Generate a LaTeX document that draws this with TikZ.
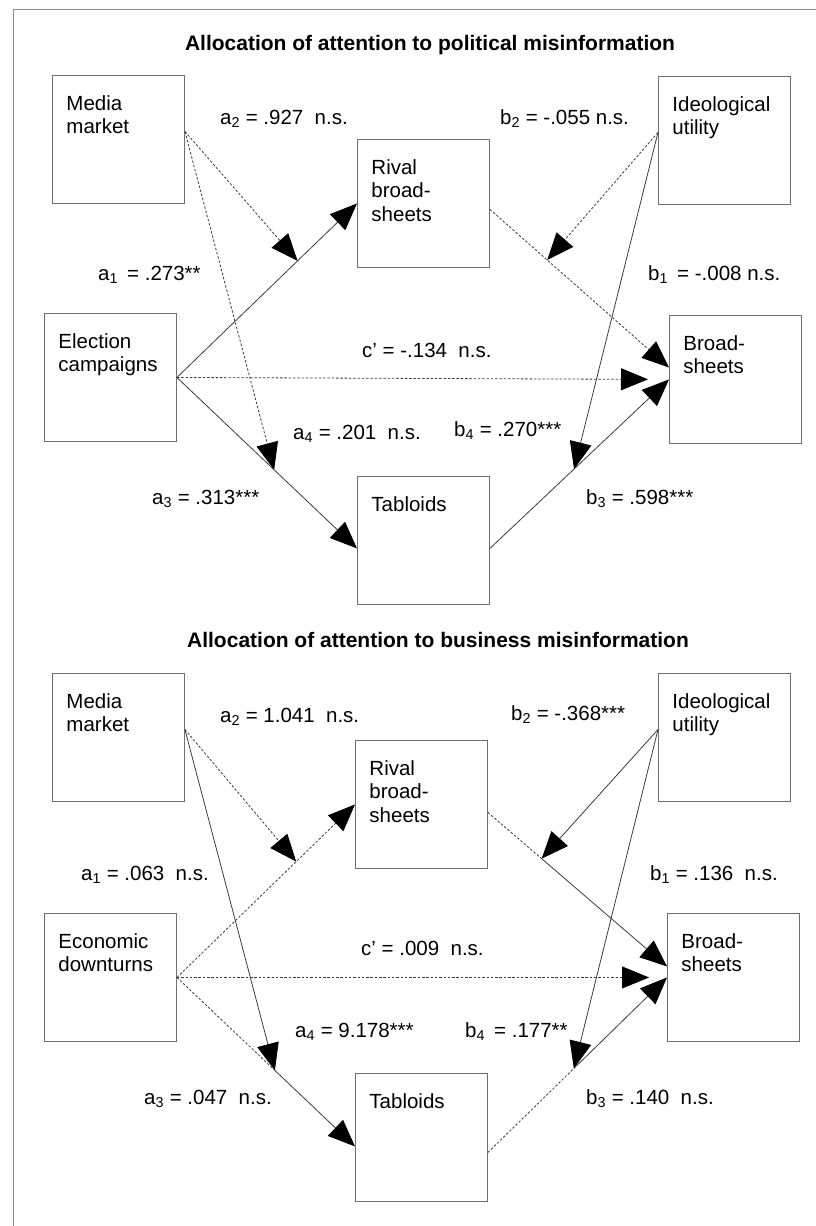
\documentclass[tikz,border=0pt]{standalone}
\usepackage{fontspec}
\setmainfont{Liberation Sans}
\usepackage{xcolor}
\usepackage{tikz}
\usetikzlibrary{arrows.meta, positioning, calc}
\definecolor{boxgray}{HTML}{6E6E6E}
\definecolor{pathgray}{HTML}{3C3C3C}
\definecolor{framegray}{HTML}{8C8C8C}

\tikzset{
    varbox/.style={draw=boxgray, line width=0.9pt, anchor=north west, align=left,
        text width=104pt, inner xsep=14pt, inner ysep=0pt, text height=35pt, text depth=93pt,
        font=\fontsize{20.5}{23.5}\selectfont},
    coef/.style={anchor=base west, inner sep=0pt, font=\fontsize{20.5}{24}\selectfont},
    paneltitle/.style={anchor=base, inner sep=0pt, font=\fontsize{21}{24}\selectfont\bfseries},
    solidpath/.style={draw=pathgray, line width=0.8pt},
    dashpath/.style={draw=pathgray, line width=0.8pt, dash pattern=on 2.5pt off 1.8pt},
    headed/.style={-{Triangle[length=27pt, width=22pt, color=black]}},
}

\begin{document}
\begin{tikzpicture}[x=1pt, y=-1pt]
    \fill[white] (0,0) rectangle (816,1226);
    \useasboundingbox (0,0) rectangle (816,1226);
    \draw[framegray, line width=0.8pt] (13,1226) -- (13,9) -- (816,9);

    % ── TOP: POLITICAL MISINFORMATION ─────────────────────────────────
    \begin{scope}
        \node[paneltitle] (t1) at (430, 50) {Allocation of attention to political misinformation};

        \node[varbox] (mm1) at (52, 75)  {Media\\market};
        \node[varbox] (ec1) at (44, 313) {Election\\campaigns};
        \node[varbox] (rv1) at (357, 139) {Rival\\broad-\\sheets};
        \node[varbox] (tb1) at (357, 476) {Tabloids};
        \node[varbox] (iu1) at (658, 76) {Ideological\\utility};
        \node[varbox] (bs1) at (669, 315) {Broad-\\sheets};

        % paths
        \draw[solidpath, headed] (ec1.east) -- coordinate[pos=0.67] (ma1) (rv1.west);
        \draw[solidpath, headed] (ec1.east) -- coordinate[pos=0.54] (ma3) ([yshift=-8pt]tb1.west);
        \draw[dashpath, headed, shorten >=21pt] (ec1.east) -- (bs1.west);
        \draw[dashpath, headed] ([yshift=-6pt]rv1.east) -- coordinate[pos=0.32] (mb1) ([yshift=12pt]bs1.west);
        \draw[solidpath, headed] ([yshift=-8pt]tb1.east) -- coordinate[pos=0.47] (mb3) (bs1.west);

        % moderators
        \draw[dashpath, headed] ([yshift=8pt]mm1.east) -- (ma1);
        \draw[dashpath, headed] ([yshift=8pt]mm1.east) -- (ma3);
        \draw[dashpath, headed] ([yshift=8pt]iu1.west) -- (mb1);
        \draw[solidpath, headed] ([yshift=8pt]iu1.west) -- (mb3);

        % coefficients
        \node[coef] (a2t) at (220, 124) {a\textsubscript{2} = .927\ \ n.s.};
        \node[coef] (b2t) at (500, 124) {b\textsubscript{2} = -.055 n.s.};
        \node[coef] (a1t) at (98, 280)  {a\textsubscript{1}\ \,= .273**};
        \node[coef] (b1t) at (648, 280) {b\textsubscript{1}\ \,= -.008 n.s.};
        \node[coef] (cpt) at (362, 357) {c’ = -.134\ \ n.s.};
        \node[coef] (a4t) at (293, 439) {a\textsubscript{4} = .201\ \ n.s.};
        \node[coef] (b4t) at (454, 436) {b\textsubscript{4} = .270***};
        \node[coef] (a3t) at (152, 504) {a\textsubscript{3} = .313***};
        \node[coef] (b3t) at (586, 504) {b\textsubscript{3} = .598***};
    \end{scope}

    % ── BOTTOM: BUSINESS MISINFORMATION ───────────────────────────────
    \begin{scope}[shift={(0, 598)}]
        \node[paneltitle] (t2) at (438, 49) {Allocation of attention to business\ misinformation};

        \node[varbox] (mm2) at (52, 75)  {Media\\market};
        \node[varbox] (ed2) at (44, 315) {Economic\\downturns};
        \node[varbox] (rv2) at (355, 142) {Rival\\broad-\\sheets};
        \node[varbox] (tb2) at (355, 475) {Tabloids};
        \node[varbox] (iu2) at (658, 75) {Ideological\\utility};
        \node[varbox] (bs2) at (667, 315) {Broad-\\sheets};

        % paths (dashed up to the moderator, solid after it)
        \draw[dashpath, headed] (ed2.east) -- coordinate[pos=0.67] (na1) (rv2.west);
        \path (ed2.east) -- coordinate[pos=0.55] (na3) ([yshift=-9pt]tb2.west);
        \draw[dashpath] (ed2.east) -- (na3);
        \draw[solidpath, headed] (na3) -- ([yshift=-9pt]tb2.west);
        \draw[dashpath, headed, shorten >=18pt] (ed2.east) -- (bs2.west);
        \path ([yshift=-8pt]rv2.east) -- coordinate[pos=0.3] (nb1) ([yshift=11pt]bs2.west);
        \draw[dashpath] ([yshift=-8pt]rv2.east) -- (nb1);
        \draw[solidpath, headed] (nb1) -- ([yshift=11pt]bs2.west);
        \path ([yshift=-15pt]tb2.east) -- coordinate[pos=0.48] (nb3) (bs2.west);
        \draw[dashpath] ([yshift=-15pt]tb2.east) -- (nb3);
        \draw[solidpath, headed] (nb3) -- (bs2.west);

        % moderators
        \draw[dashpath, headed] ([yshift=8pt]mm2.east) -- (na1);
        \draw[solidpath, headed] ([yshift=8pt]mm2.east) -- (na3);
        \draw[solidpath, headed] ([yshift=8pt]iu2.west) -- (nb1);
        \draw[solidpath, headed] ([yshift=8pt]iu2.west) -- (nb3);

        % coefficients
        \node[coef] (a2b) at (220, 124) {a\textsubscript{2} = 1.041\ \ n.s.};
        \node[coef] (b2b) at (511, 122) {b\textsubscript{2} = -.368***};
        \node[coef] (a1b) at (81, 282)  {a\textsubscript{1} = .063\ \ n.s.};
        \node[coef] (b1b) at (650, 282) {b\textsubscript{1} = .136\ \ n.s.};
        \node[coef] (cpb) at (361, 357) {c’ = .009\ \ n.s.};
        \node[coef] (a4b) at (295, 439) {a\textsubscript{4} = 9.178***};
        \node[coef] (b4b) at (465, 439) {b\textsubscript{4}\ \,= .177**};
        \node[coef] (a3b) at (144, 506) {a\textsubscript{3} = .047\ \ n.s.};
        \node[coef] (b3b) at (586, 506) {b\textsubscript{3} = .140\ \ n.s.};
    \end{scope}
\end{tikzpicture}
\end{document}
